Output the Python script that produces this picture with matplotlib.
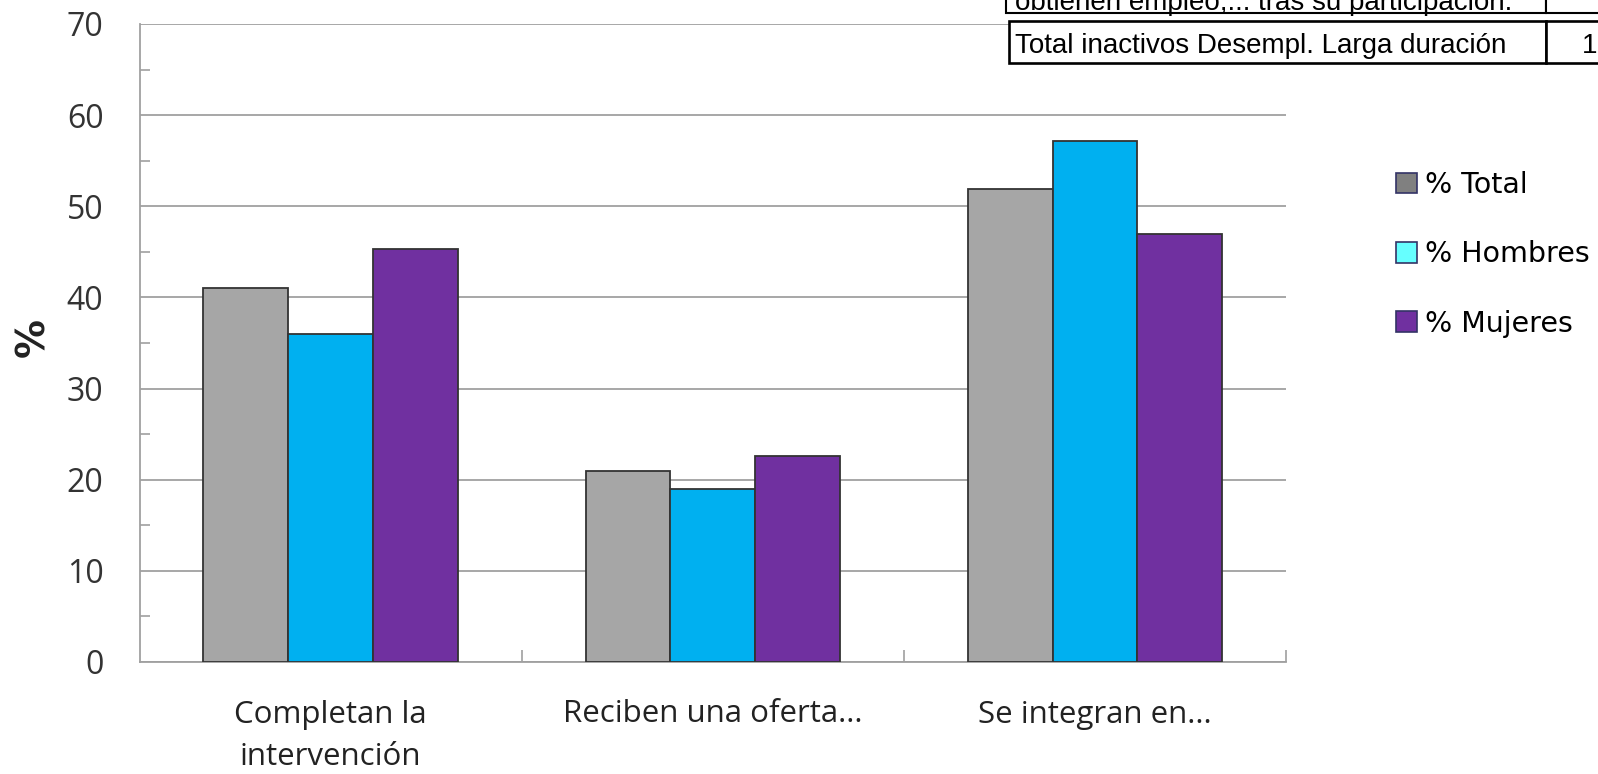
import matplotlib.pyplot as plt
from matplotlib.patches import Patch, Rectangle
import numpy as np

categorias = ['Completan la\nintervención', 'Reciben una oferta...', 'Se integran en...']
series = ['% Total', '% Hombres', '% Mujeres']
total = [41.0, 21.0, 51.9]
hombres = [36.0, 19.0, 57.2]
mujeres = [45.3, 22.6, 47.0]

colores_barra = ['#A6A6A6', '#00B0F0', '#7030A0']
colores_leyenda = ['#808080', '#66FFFF', '#7030A0']

W, H = 1598, 774
fig = plt.figure(figsize=(W / 100, H / 100), dpi=100)
ax = fig.add_axes([139.6 / W, 1 - 662 / H, (1286 - 139.6) / W, (662 - 24) / H])

x = np.arange(len(categorias))
ancho = 0.222
for i, vals in enumerate([total, hombres, mujeres]):
    ax.bar(x + (i - 1) * ancho, vals, ancho, color=colores_barra[i],
           edgecolor='#333333', linewidth=1.3, zorder=3)

ax.set_xlim(-0.5, 2.5)
ax.set_ylim(0, 70)
ax.set_yticks(range(0, 71, 10))
ax.set_yticks(range(5, 70, 10), minor=True)
ax.yaxis.grid(True, color='#A0A0A0', linewidth=1.3, zorder=0)
ax.set_xticks(x)
ax.set_xticks([0.5, 1.5, 2.5], minor=True)
ax.set_xticklabels(categorias, fontsize=22.5, family='Open Sans', color='#222222', linespacing=1.55)
for lab in ax.get_yticklabels():
    lab.set_fontsize(23)
    lab.set_family('Open Sans')
    lab.set_color('#333333')
ax.tick_params(axis='both', which='major', length=0)
ax.tick_params(axis='y', which='major', pad=26)
ax.tick_params(axis='x', which='major', pad=27)
ax.tick_params(axis='y', which='minor', direction='in', length=7.5, width=1.2, color='#A0A0A0')
ax.tick_params(axis='x', which='minor', direction='in', length=9, width=1.2, color='#A0A0A0')
for s in ['top', 'right']:
    ax.spines[s].set_visible(False)
for s in ['left', 'bottom']:
    ax.spines[s].set_color('#A0A0A0')
    ax.spines[s].set_linewidth(1.3)

fig.text(33 / W, 1 - 338 / H, '%', rotation=90, fontsize=28, fontweight='bold',
         family='DejaVu Sans', ha='center', va='center', color='#222222')

handles = [Patch(facecolor=c, edgecolor='#333366', linewidth=1.2) for c in colores_leyenda]
fig.legend(handles, series, loc='upper left', bbox_to_anchor=(1396 / W, 1 - 171 / H),
           frameon=False, prop={'family': 'DejaVu Sans', 'size': 20.5}, borderpad=0,
           borderaxespad=0, handlelength=0.74, handleheight=0.74, handletextpad=0.28,
           labelspacing=1.45)

# tabla recortada arriba a la derecha
def rect(x0, y0, x1, y1, lw):
    fig.add_artist(Rectangle((x0 / W, 1 - y1 / H), (x1 - x0) / W, (y1 - y0) / H,
                             transform=fig.transFigure, facecolor='white',
                             edgecolor='black', linewidth=lw, zorder=10))

rect(1006, -20, 1546, 13, 1.5)
rect(1546, -20, 1620, 13, 1.5)
rect(1009, 21.5, 1546, 63, 1.9)
rect(1546, 21.5, 1620, 63, 1.9)
fig.text(1015 / W, 1 - 10.5 / H, 'obtienen empleo,... tras su participación.', fontsize=20,
         family='Liberation Sans', va='baseline', zorder=11)
fig.text(1015 / W, 1 - 53 / H, 'Total inactivos Desempl. Larga duración', fontsize=20,
         family='Liberation Sans', va='baseline', zorder=11)
fig.text(1582 / W, 1 - 53 / H, '1', fontsize=20, family='Liberation Sans',
         va='baseline', zorder=11)

fig.savefig('out.png', dpi=100)
